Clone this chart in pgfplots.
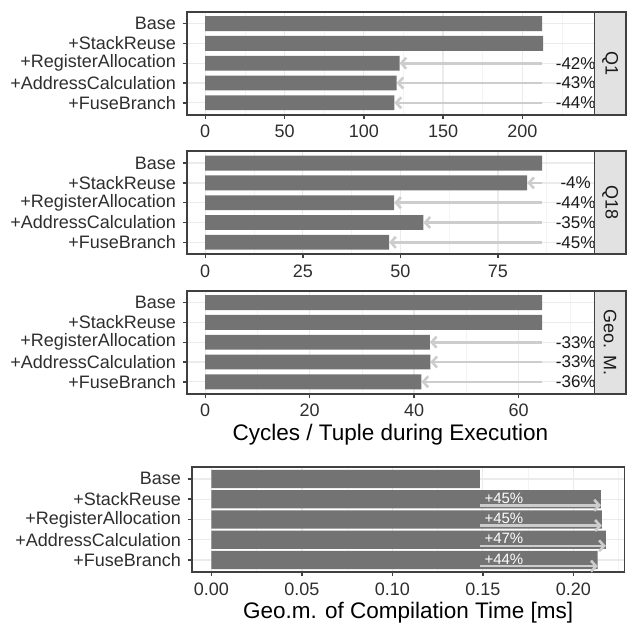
\documentclass[border=0pt]{standalone}
\usepackage{fontspec}
\setmainfont{Liberation Sans}
\usepackage{pgfplots}
\pgfplotsset{compat=1.18}
\usetikzlibrary{arrows.meta}
\definecolor{barc}{HTML}{737373}
\definecolor{arrc}{HTML}{CDCDCD}
\definecolor{bordc}{HTML}{404040}
\definecolor{gridc}{HTML}{EBEBEB}
\definecolor{gridm}{HTML}{F4F4F4}
\definecolor{stripc}{HTML}{E2E2E2}
\definecolor{tickc}{HTML}{2E2E2E}
\definecolor{labc}{HTML}{1A1A1A}
\pgfplotsset{
  panel/.style={
    scale only axis, width=407.6pt, height=103pt,
    y dir=reverse, ymin=0.4, ymax=5.6, ytick={1,2,3,4,5},
    yticklabels={Base,+StackReuse,+RegisterAllocation,+AddressCalculation,+FuseBranch},
    axis line style={draw=bordc, line width=1.6pt},
    tick align=outside, major tick length=4pt, minor tick length=0pt,
    xtick pos=bottom, ytick pos=left,
    every tick/.style={draw=bordc, line width=1.4pt},
    xmajorgrids, ymajorgrids, xminorgrids,
    major grid style={draw=gridc, line width=1.3pt},
    minor grid style={draw=gridm, line width=0.7pt},
    tick label style={font=\fontsize{18}{18}\selectfont, text=tickc},
    xticklabel style={inner sep=0pt, yshift=-6.5pt},
    yticklabel style={inner sep=0pt, xshift=-6.5pt},
    label style={font=\fontsize{22.5}{22.5}\selectfont, text=black},
    xlabel style={at={(axis description cs:0.5,0)}, anchor=center, yshift=-40.5pt},
  },
  bars/.style={xbar, bar shift=0pt, bar width=#1, fill=barc, draw=none},
  arr/.style={draw=arrc, line width=2.6pt, -{Straight Barb[length=5pt,width=11pt,line cap=butt]},
    quiver={u=\thisrow{u}, v=0}},
  pct/.style={only marks, mark=none, nodes near coords, point meta=explicit symbolic,
    nodes near coords style={anchor=center, font=\fontsize{17}{17}\selectfont, text=labc}},
}
\begin{document}
\begin{tikzpicture}
\path[use as bounding box] (0pt,0pt) rectangle (628pt,-624pt);
% ---------------- Q1
\begin{axis}[panel, name=ax1, at={(186.7pt,-11.7pt)}, anchor=north west,
  xmin=-11.68, xmax=245.32, xtick={0,50,100,150,200}, xticklabels={0,50,100,150,200},
  minor xtick={25,75,125,175,225}]
\addplot[bars=0.75] coordinates {(212.4,1) (213.0,2) (122.5,3) (120.6,4) (119.3,5)};
\addplot[arr] table {
x y u
212.4 3 -89.9
212.4 4 -91.8
212.4 5 -93.1
};
\addplot[pct] coordinates {(233.6,3) [-42\%] (233.6,4) [-43\%] (233.6,5) [-44\%]};
\end{axis}
\draw[draw=bordc, line width=1.6pt, fill=stripc] (ax1.north east) rectangle ([xshift=31.7pt]ax1.south east);
\node[rotate=-90, font=\fontsize{18}{18}\selectfont, text=labc] at ([xshift=15.85pt]ax1.east) {Q1};
% ---------------- Q18
\begin{axis}[panel, name=ax2, at={(186.7pt,-151.2pt)}, anchor=north west,
  xmin=-4.75, xmax=99.68, xtick={0,25,50,75}, xticklabels={0,25,50,75},
  minor xtick={12.5,37.5,62.5,87.5}]
\addplot[bars=0.75] coordinates {(86.3,1) (82.5,2) (48.4,3) (55.9,4) (47.1,5)};
\addplot[arr] table {
x y u
86.3 2 -3.8
86.3 3 -37.9
86.3 4 -30.4
86.3 5 -39.2
};
\addplot[pct] coordinates {(94.9,2) [-4\%] (94.9,3) [-44\%] (94.9,4) [-35\%] (94.9,5) [-45\%]};
\end{axis}
\draw[draw=bordc, line width=1.6pt, fill=stripc] (ax2.north east) rectangle ([xshift=31.7pt]ax2.south east);
\node[rotate=-90, font=\fontsize{18}{18}\selectfont, text=labc] at ([xshift=15.85pt]ax2.east) {Q18};
% ---------------- Geo. M.
\begin{axis}[panel, name=ax3, at={(186.7pt,-290.7pt)}, anchor=north west,
  xmin=-3.55, xmax=74.5, xtick={0,20,40,60}, xticklabels={0,20,40,60},
  minor xtick={10,30,50,70},
  xlabel={Cycles / Tuple during Execution}]
\addplot[bars=0.75] coordinates {(64.5,1) (64.5,2) (43.0,3) (43.1,4) (41.4,5)};
\addplot[arr] table {
x y u
64.5 3 -21.5
64.5 4 -21.4
64.5 5 -23.1
};
\addplot[pct] coordinates {(70.95,3) [-33\%] (70.95,4) [-33\%] (70.95,5) [-36\%]};
\end{axis}
\draw[draw=bordc, line width=1.6pt, fill=stripc] (ax3.north east) rectangle ([xshift=31.7pt]ax3.south east);
\node[rotate=-90, font=\fontsize{18}{18}\selectfont, text=labc] at ([xshift=15.85pt]ax3.east) {Geo. M.};
% ---------------- Compilation time
\begin{axis}[panel, name=ax4, at={(191.7pt,-466.7pt)}, anchor=north west,
  width=432.8pt, height=105.5pt,
  xmin=-0.0109, xmax=0.2283, xtick={0,0.05,0.1,0.15,0.2},
  xticklabels={0.00,0.05,0.10,0.15,0.20},
  minor xtick={0.025,0.075,0.125,0.175,0.225},
  xlabel={Geo.m. of Compilation Time [ms]}]
\addplot[bars=0.9] coordinates {(0.1484,1) (0.2153,2) (0.2158,3) (0.2180,4) (0.2135,5)};
\addplot[arr] table {
x y u
0.1484 2.3 0.0669
0.1484 3.3 0.0674
0.1484 4.3 0.0696
0.1484 5.3 0.0651
};
\addplot[only marks, mark=none, nodes near coords, point meta=explicit symbolic,
  nodes near coords style={anchor=west, inner sep=0pt, xshift=4.4pt, font=\fontsize{15}{15}\selectfont, text=white}]
  coordinates {(0.1484,1.95) [+45\%] (0.1484,2.95) [+45\%] (0.1484,3.95) [+47\%] (0.1484,4.95) [+44\%]};
\end{axis}
\end{tikzpicture}
\end{document}
